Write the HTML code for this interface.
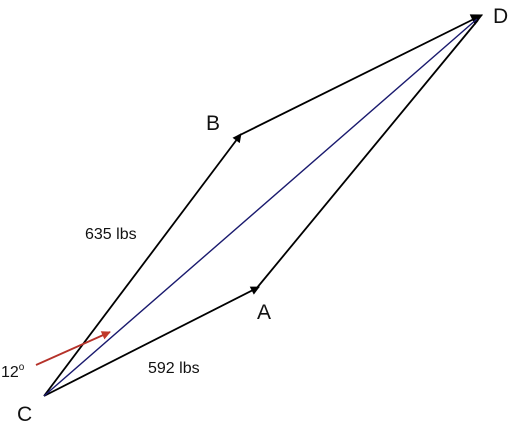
<!DOCTYPE html>
<html><head><meta charset="utf-8"><style>
body{margin:0;background:#fff}
svg{display:block}
text{font-family:"Liberation Sans",sans-serif;fill:#111}
</style></head><body>
<svg width="512" height="425" viewBox="0 0 512 425">
<defs>
<marker id="ah" viewBox="0 0 10 10" refX="9" refY="5" markerWidth="7" markerHeight="6" orient="auto" markerUnits="userSpaceOnUse"><path d="M0,0 L10,5 L0,10 z" fill="#000"/></marker>
<marker id="ah2" viewBox="0 0 10 10" refX="9" refY="5" markerWidth="12" markerHeight="9" orient="auto" markerUnits="userSpaceOnUse"><path d="M0,0 L10,5 L0,10 z" fill="#000"/></marker>
<marker id="ahd" viewBox="0 0 10 10" refX="9" refY="5" markerWidth="14" markerHeight="12" orient="auto" markerUnits="userSpaceOnUse"><path d="M0,0 L10,5 L0,10 z" fill="#000"/></marker>
<marker id="ahr" viewBox="0 0 10 10" refX="9" refY="5" markerWidth="12" markerHeight="9" orient="auto" markerUnits="userSpaceOnUse"><path d="M0,0 L10,5 L0,10 z" fill="#c0392b"/></marker>
</defs>
<line x1="44" y1="396" x2="241" y2="134" stroke="#000" stroke-width="1.8" marker-end="url(#ah2)"/>
<line x1="44" y1="396" x2="259" y2="287" stroke="#000" stroke-width="1.8" marker-end="url(#ah2)"/>
<line x1="238" y1="136" x2="482" y2="15" stroke="#000" stroke-width="1.8" marker-end="url(#ahd)"/>
<line x1="256" y1="289" x2="478" y2="20" stroke="#000" stroke-width="1.8"/>
<line x1="44" y1="396" x2="477" y2="19" stroke="#1a1a6e" stroke-width="1.4"/>
<line x1="36" y1="365" x2="110" y2="332" stroke="#b5322a" stroke-width="1.8" marker-end="url(#ahr)"/>
<text x="206" y="130" font-size="21">B</text>
<text x="493" y="23" font-size="21">D</text>
<text x="257" y="319" font-size="21">A</text>
<text x="17" y="421" font-size="21">C</text>
<text x="85" y="239" font-size="16">635 lbs</text>
<text x="148" y="373" font-size="16">592 lbs</text>
<text x="1" y="377" font-size="16">12<tspan font-size="10" dy="-7">o</tspan></text>
</svg>
</body></html>
